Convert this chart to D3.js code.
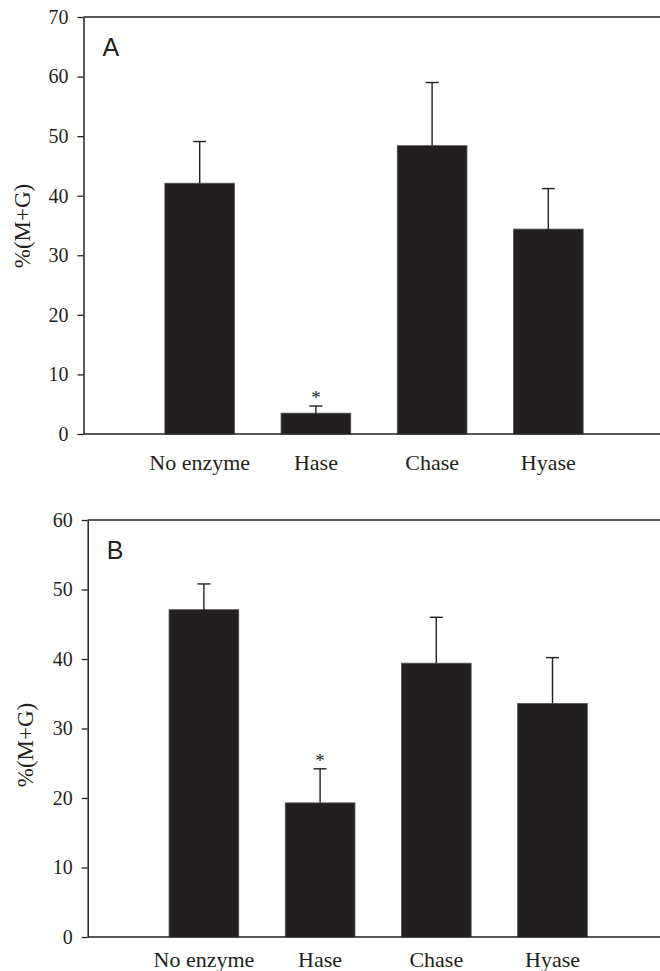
<!DOCTYPE html>
<html>
<head>
<meta charset="utf-8">
<script src="https://cdn.jsdelivr.net/npm/d3@7"></script>
<style>
  body { margin: 0; background: #fff; }
  svg { display: block; }
  .serif, .tick text { font-family: "Liberation Serif", "Times New Roman", serif !important; }
  .sans { font-family: "Liberation Sans", Arial, sans-serif; }
</style>
</head>
<body>
<div id="chart"></div>
<script>
// data
var categories = ["No enzyme", "Hase", "Chase", "Hyase"];
var valuesA = [42.1, 3.5, 48.4, 34.4];
var errorsA = [7.0, 1.2, 10.6, 6.8];
var valuesB = [47.1, 19.3, 39.4, 33.6];
var errorsB = [3.7, 4.9, 6.6, 6.6];
var signifA = [false, true, false, false];
var signifB = [false, true, false, false];
var ticksA = [0, 10, 20, 30, 40, 50, 60, 70];
var ticksB = [0, 10, 20, 30, 40, 50, 60];

var width = 660, height = 971;
var ink = "#231f20";

var svg = d3.select("#chart").append("svg")
  .attr("width", width)
  .attr("height", height);

function panel(opts) {
  var g = svg.append("g");
  var step = 116.2;
  var x = d3.scaleBand()
    .domain(categories)
    .range([opts.left + step / 2, opts.left + step / 2 + 4 * step])
    .paddingInner(0.4)
    .paddingOuter(0.2);
  var y = d3.scaleLinear()
    .domain([0, opts.max])
    .range([opts.bottom, opts.top]);
  var right = opts.left + 5 * step;

  var data = categories.map(function(c, i) {
    return { name: c, value: opts.values[i], err: opts.errors[i], star: opts.signif[i] };
  });

  // bars
  g.selectAll("rect.bar").data(data).enter().append("rect")
    .attr("class", "bar")
    .attr("x", function(d) { return x(d.name); })
    .attr("y", function(d) { return y(d.value); })
    .attr("width", x.bandwidth())
    .attr("height", function(d) { return y(0) - y(d.value); })
    .attr("fill", ink)
    .attr("stroke", "#555")
    .attr("stroke-width", 0.8);

  // error bars (upper only)
  var eb = g.selectAll("g.err").data(data).enter().append("g")
    .attr("class", "err")
    .attr("stroke", ink)
    .attr("stroke-width", 1.4);
  eb.append("line")
    .attr("x1", function(d) { return x(d.name) + x.bandwidth() / 2; })
    .attr("x2", function(d) { return x(d.name) + x.bandwidth() / 2; })
    .attr("y1", function(d) { return y(d.value); })
    .attr("y2", function(d) { return y(d.value + d.err); });
  eb.append("line")
    .attr("x1", function(d) { return x(d.name) + x.bandwidth() / 2 - 6.5; })
    .attr("x2", function(d) { return x(d.name) + x.bandwidth() / 2 + 6.5; })
    .attr("y1", function(d) { return y(d.value + d.err); })
    .attr("y2", function(d) { return y(d.value + d.err); });

  // asterisks
  g.selectAll("text.star").data(data.filter(function(d) { return d.star; }))
    .enter().append("text")
    .attr("class", "star serif")
    .attr("x", function(d) { return x(d.name) + x.bandwidth() / 2; })
    .attr("y", function(d) { return y(d.value + d.err) - 2; })
    .attr("text-anchor", "middle")
    .attr("font-size", 19)
    .attr("fill", ink)
    .text("*");

  // frame: top and bottom lines
  g.append("line")
    .attr("x1", opts.left).attr("x2", right)
    .attr("y1", y(opts.max)).attr("y2", y(opts.max))
    .attr("stroke", ink).attr("stroke-width", 1.5);
  g.append("line")
    .attr("x1", opts.left).attr("x2", right)
    .attr("y1", y(0)).attr("y2", y(0))
    .attr("stroke", ink).attr("stroke-width", 1.5);

  // y axis
  var yAxis = g.append("g")
    .attr("transform", "translate(" + opts.left + ",0)")
    .call(d3.axisLeft(y).tickValues(opts.ticks).tickSize(6).tickSizeOuter(0).tickPadding(9));
  yAxis.attr("font-family", null);
  yAxis.select(".domain").attr("stroke", ink).attr("stroke-width", 1.5);
  yAxis.selectAll(".tick line").attr("stroke", ink).attr("stroke-width", 1.3);
  yAxis.selectAll(".tick text").attr("font-size", 20).attr("fill", ink);

  // x axis labels
  var xAxis = g.append("g")
    .attr("transform", "translate(0," + y(0) + ")")
    .call(d3.axisBottom(x).tickSize(0).tickPadding(opts.labelPad));
  xAxis.attr("font-family", null);
  xAxis.select(".domain").remove();
  xAxis.selectAll(".tick text").attr("font-size", 22).attr("fill", ink);

  // y title
  g.append("text")
    .attr("class", "serif")
    .attr("transform", "translate(" + opts.titleX + "," + (opts.titleY) + ") rotate(-90)")
    .attr("text-anchor", "middle")
    .attr("font-size", 23)
    .attr("fill", ink)
    .text("%(M+G)");

  // panel letter
  g.append("text")
    .attr("class", "sans")
    .attr("x", opts.left + 19)
    .attr("y", y(opts.max) + 39)
    .attr("font-size", 25)
    .attr("fill", ink)
    .text(opts.letter);
}

panel({
  letter: "A", left: 83.5, top: 17, bottom: 434, max: 70,
  values: valuesA, errors: errorsA, signif: signifA, ticks: ticksA,
  labelPad: 20, titleX: 30, titleY: 226
});
panel({
  letter: "B", left: 87.7, top: 520, bottom: 937, max: 60,
  values: valuesB, errors: errorsB, signif: signifB, ticks: ticksB,
  labelPad: 14, titleX: 33, titleY: 745
});
</script>
</body>
</html>
